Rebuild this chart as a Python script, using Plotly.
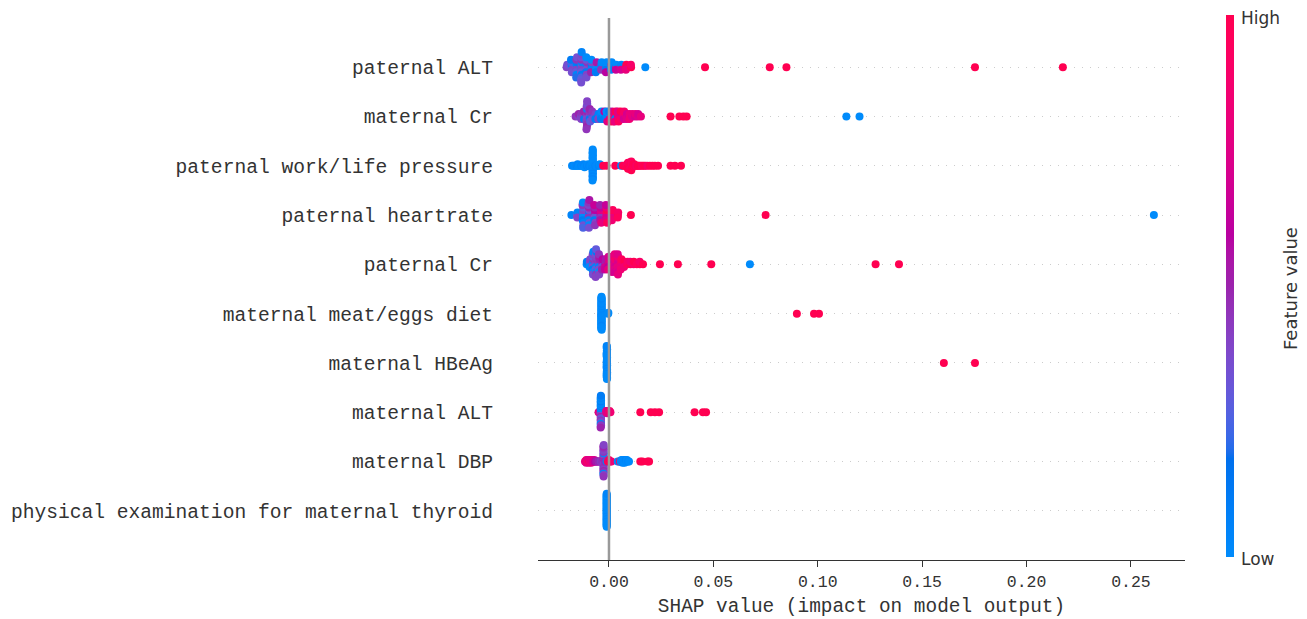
import numpy as np
import plotly.graph_objects as go

# ---------------- data ----------------
features = [
    "paternal ALT", "maternal Cr", "paternal work/life pressure", "paternal heartrate",
    "paternal Cr", "maternal meat/eggs diet", "maternal HBeAg", "maternal ALT",
    "maternal DBP", "physical examination for maternal thyroid",
]
x_tick_vals = [0.0, 0.05, 0.10, 0.15, 0.20, 0.25]
x_tick_text = ["0.00", "0.05", "0.10", "0.15", "0.20", "0.25"]
colorbar_labels = ["Low", "High"]

pat_alt_shap = [
    -0.0203, -0.0200,
    -0.0181, -0.0179, -0.0177, -0.0180, -0.0178, -0.0182,
    -0.0156, -0.0155, -0.0157, -0.0154, -0.0158, -0.0156, -0.0155, -0.0153, -0.0157,
    -0.0132, -0.0131, -0.0133, -0.0130, -0.0134, -0.0132, -0.0131, -0.0133, -0.0132, -0.0130, -0.0134, -0.0131, -0.0133,
    -0.0108, -0.0107, -0.0109, -0.0106, -0.0110, -0.0108, -0.0107, -0.0109, -0.0108,
    -0.0084, -0.0083, -0.0085, -0.0082, -0.0086, -0.0084,
    -0.0061, -0.0060, -0.0062, -0.0059, -0.0063,
    -0.0037, -0.0036, -0.0038, -0.0035,
    -0.0013, -0.0012, -0.0014, -0.0011, -0.0015,
    0.0011, 0.0012, 0.0010, 0.0013,
    0.0034, 0.0035, 0.0033,
    0.0058, 0.0059, 0.0057,
    0.0082, 0.0083, 0.0081,
    0.0106, 0.0105,
    0.0174, 0.0460, 0.0770, 0.0850, 0.1753, 0.2174,
]
pat_alt_val = [
    0.40, 0.35,
    0.30, 0.05, 0.40, 0.25, 0.35, 0.10,
    0.35, 0.05, 0.40, 0.10, 0.30, 0.45, 0.05, 0.35, 0.20,
    0.00, 0.35, 0.40, 0.05, 0.30, 0.45, 0.10, 0.35, 0.25, 0.40, 0.30, 0.05, 0.35,
    0.40, 0.05, 0.35, 0.45, 0.10, 0.30, 0.40, 0.00, 0.35,
    0.45, 0.10, 0.05, 0.40, 0.50, 0.00,
    0.05, 0.40, 0.00, 0.55, 0.10,
    0.00, 0.05, 0.45, 0.00,
    0.05, 0.00, 0.10, 0.00, 0.60,
    0.00, 0.70, 0.05, 0.00,
    0.75, 0.00, 0.65,
    0.85, 0.05, 0.70,
    0.95, 1.00, 0.80,
    1.00, 0.90,
    0.00, 1.00, 1.00, 1.00, 1.00, 1.00,
]

mat_cr_shap = [
    -0.0160,
    -0.0147, -0.0145,
    -0.0134, -0.0132, -0.0133,
    -0.0120, -0.0118, -0.0119, -0.0121,
    -0.0106, -0.0105, -0.0107, -0.0104, -0.0108, -0.0106, -0.0105, -0.0107, -0.0106, -0.0104, -0.0108, -0.0105,
    -0.0093, -0.0091, -0.0092, -0.0094, -0.0090, -0.0092,
    -0.0079, -0.0077, -0.0078, -0.0080,
    -0.0066, -0.0064, -0.0065,
    -0.0052, -0.0050, -0.0051,
    -0.0039, -0.0037, -0.0038, -0.0036,
    -0.0025, -0.0023, -0.0024, -0.0022,
    -0.0011, -0.0009, -0.0010, -0.0012, -0.0008,
    0.0002, 0.0004, 0.0003, 0.0001, 0.0005,
    0.0016, 0.0018, 0.0017, 0.0015, 0.0019,
    0.0029, 0.0031, 0.0030, 0.0032, 0.0028,
    0.0043, 0.0045, 0.0044, 0.0042, 0.0046,
    0.0057, 0.0059, 0.0058, 0.0056,
    0.0070, 0.0072, 0.0071, 0.0073,
    0.0084, 0.0086, 0.0085,
    0.0097, 0.0099, 0.0098,
    0.0111, 0.0113,
    0.0125, 0.0127,
    0.0138, 0.0140,
    0.0153,
    0.0295, 0.0337, 0.0356, 0.0372, 0.1137, 0.1200,
]
mat_cr_val = [
    0.45,
    0.40, 0.50,
    0.35, 0.45, 0.40,
    0.45, 0.40, 0.10, 0.50,
    0.40, 0.45, 0.35, 0.50, 0.40, 0.05, 0.45, 0.40, 0.50, 0.35, 0.45, 0.40,
    0.40, 0.35, 0.10, 0.45, 0.30, 0.50,
    0.40, 0.20, 0.35, 0.45,
    0.30, 0.40, 0.10,
    0.10, 0.05, 0.40,
    0.00, 0.05, 0.10, 0.00,
    0.05, 0.00, 0.10, 0.60,
    0.00, 0.10, 0.05, 0.00, 0.75,
    0.05, 0.00, 0.80, 0.10, 0.90,
    0.95, 0.00, 0.85, 0.70, 1.00,
    0.90, 0.75, 0.05, 1.00, 0.80,
    0.70, 0.90, 0.80, 0.75, 0.95,
    0.80, 0.70, 0.90, 1.00,
    0.75, 0.85, 0.70, 0.90,
    0.80, 0.70, 0.75,
    0.70, 0.80, 0.85,
    0.75, 0.80,
    0.70, 0.80,
    0.75, 0.70,
    0.80,
    1.00, 1.00, 1.00, 1.00, 0.00, 0.00,
]

pat_work_shap = [
    -0.0177, -0.0171, -0.0166, -0.0160, -0.0155, -0.0150, -0.0150, -0.0144, -0.0139, -0.0133,
    -0.0128, -0.0122, -0.0122, -0.0117, -0.0111, -0.0106, -0.0100, -0.0100, -0.0095, -0.0089, -0.0085,
    -0.0078, -0.0077, -0.0079, -0.0078, -0.0077, -0.0079, -0.0078, -0.0077, -0.0079, -0.0078, -0.0077,
    -0.0079, -0.0078, -0.0077, -0.0079, -0.0078, -0.0077, -0.0079, -0.0078, -0.0077, -0.0079, -0.0078,
    -0.0071, -0.0066, -0.0060, -0.0055, -0.0049, -0.0044, -0.0038,
    -0.0028, -0.0012, 0.0030, 0.0058, 0.0066,
    0.0074, 0.0079, 0.0083, 0.0087, 0.0087, 0.0091, 0.0091, 0.0091, 0.0095, 0.0095, 0.0095, 0.0095,
    0.0099, 0.0099, 0.0099, 0.0099, 0.0099, 0.0103, 0.0103, 0.0103, 0.0103, 0.0107, 0.0107, 0.0107,
    0.0111, 0.0111, 0.0116, 0.0116, 0.0121, 0.0121, 0.0126, 0.0131, 0.0137, 0.0143, 0.0150, 0.0158,
    0.0166, 0.0174, 0.0184, 0.0196, 0.0208, 0.0220, 0.0235,
    0.0295, 0.0316, 0.0345,
]
pat_work_val = [
    0.00, 0.05, 0.00, 0.00, 0.05, 0.00, 0.05, 0.00, 0.00, 0.05,
    0.00, 0.00, 0.05, 0.00, 0.00, 0.05, 0.00, 0.00, 0.05, 0.00, 0.00,
    0.00, 0.00, 0.05, 0.00, 0.00, 0.00, 0.05, 0.00, 0.00, 0.00, 0.05,
    0.00, 0.00, 0.00, 0.05, 0.00, 0.00, 0.00, 0.05, 0.00, 0.00, 0.00,
    0.00, 0.05, 0.00, 0.00, 0.05, 0.00, 0.00,
    1.00, 1.00, 1.00, 0.05, 1.00,
    1.00, 0.95, 1.00, 1.00, 0.90, 1.00, 0.95, 1.00, 1.00, 0.90, 1.00, 1.00,
    1.00, 0.95, 1.00, 0.85, 1.00, 1.00, 1.00, 0.90, 1.00, 1.00, 0.95, 1.00,
    1.00, 0.90, 1.00, 1.00, 0.95, 1.00, 1.00, 0.90, 1.00, 1.00, 1.00, 0.95,
    1.00, 1.00, 0.90, 1.00, 1.00, 1.00, 1.00,
    1.00, 1.00, 1.00,
]

pat_hr_shap = [
    -0.0180,
    -0.0153, -0.0151, -0.0152,
    -0.0124, -0.0123, -0.0125, -0.0122, -0.0126, -0.0124, -0.0121, -0.0127, -0.0123, -0.0125, -0.0124,
    -0.0096, -0.0095, -0.0097, -0.0094, -0.0098, -0.0096, -0.0093, -0.0099, -0.0095, -0.0097, -0.0096, -0.0094,
    -0.0068, -0.0067, -0.0069, -0.0066, -0.0070, -0.0068, -0.0065, -0.0071, -0.0067,
    -0.0040, -0.0039, -0.0041, -0.0038, -0.0042, -0.0040, -0.0037, -0.0043,
    -0.0012, -0.0011, -0.0013, -0.0010, -0.0014, -0.0012, -0.0009, -0.0015,
    0.0016, 0.0017, 0.0015, 0.0018, 0.0014,
    0.0043, 0.0044, 0.0042,
    0.0105, 0.0750, 0.2610,
]
pat_hr_val = [
    0.05,
    0.30, 0.05, 0.40,
    0.05, 0.35, 0.00, 0.40, 0.10, 0.30, 0.05, 0.45, 0.35, 0.00, 0.25,
    0.40, 0.10, 0.45, 0.35, 0.05, 0.50, 0.30, 0.40, 0.00, 0.45, 0.35, 0.55,
    0.45, 0.55, 0.35, 0.60, 0.10, 0.50, 0.40, 0.65, 0.45,
    0.60, 0.70, 0.45, 0.75, 0.55, 0.65, 0.80, 0.50,
    0.80, 0.90, 0.70, 1.00, 0.75, 0.85, 0.95, 0.65,
    0.90, 1.00, 0.80, 0.95, 0.85,
    1.00, 0.90, 0.95,
    1.00, 1.00, 0.00,
]

pat_cr_shap = [
    -0.0107, -0.0106,
    -0.0092, -0.0091, -0.0093, -0.0090,
    -0.0077, -0.0076, -0.0078, -0.0075, -0.0079, -0.0077, -0.0076, -0.0078, -0.0077, -0.0075,
    -0.0062, -0.0061, -0.0063, -0.0060, -0.0064, -0.0062, -0.0061, -0.0063, -0.0062, -0.0060, -0.0064, -0.0062,
    -0.0047, -0.0046, -0.0048, -0.0045, -0.0049, -0.0047, -0.0046, -0.0048, -0.0047,
    -0.0032, -0.0031, -0.0033, -0.0030, -0.0034,
    -0.0017, -0.0016, -0.0018, -0.0015, -0.0019,
    -0.0002, -0.0001, -0.0003, 0.0000, -0.0004, -0.0002,
    0.0013, 0.0014, 0.0012, 0.0015, 0.0011, 0.0013, 0.0014,
    0.0028, 0.0029, 0.0027, 0.0030, 0.0026, 0.0028, 0.0029, 0.0027,
    0.0043, 0.0044, 0.0042, 0.0045, 0.0041, 0.0043, 0.0044, 0.0042, 0.0043,
    0.0058, 0.0059, 0.0057, 0.0060, 0.0056,
    0.0073, 0.0074, 0.0072,
    0.0088, 0.0089,
    0.0103, 0.0102,
    0.0118, 0.0119,
    0.0133,
    0.0148, 0.0147,
    0.0163,
    0.0244, 0.0330, 0.0490, 0.0675, 0.1277, 0.1389,
]
pat_cr_val = [
    0.00, 0.10,
    0.05, 0.35, 0.00, 0.40,
    0.40, 0.05, 0.35, 0.45, 0.10, 0.30, 0.00, 0.40, 0.35, 0.05,
    0.35, 0.40, 0.05, 0.45, 0.30, 0.40, 0.00, 0.35, 0.45, 0.10, 0.40, 0.30,
    0.40, 0.45, 0.05, 0.50, 0.35, 0.55, 0.00, 0.45, 0.40,
    0.45, 0.55, 0.35, 0.60, 0.50,
    0.60, 0.50, 0.70, 0.55, 0.65,
    0.65, 0.70, 0.60, 0.75, 0.80, 0.70,
    0.75, 0.70, 0.80, 0.65, 0.85, 0.75, 0.70,
    0.80, 0.75, 0.70, 0.85, 0.75, 0.90, 0.70, 0.80,
    0.75, 0.70, 0.80, 0.72, 0.78, 0.85, 0.70, 0.75, 0.80,
    0.85, 0.90, 0.80, 0.95, 0.85,
    0.90, 1.00, 0.85,
    0.95, 0.90,
    1.00, 0.85,
    0.90, 1.00,
    0.95,
    1.00, 0.90,
    1.00,
    1.00, 1.00, 1.00, 0.00, 1.00, 1.00,
]

mat_meat_shap = [
    -0.0036, -0.0035, -0.0037, -0.0036, -0.0035, -0.0036, -0.0037, -0.0036, -0.0035, -0.0036,
    -0.0036, -0.0035, -0.0037, -0.0036, -0.0035, -0.0036, -0.0037, -0.0036, -0.0035, -0.0036,
    -0.0036, -0.0035, -0.0037, -0.0036, -0.0035, -0.0036, -0.0037, -0.0036, -0.0035, -0.0036,
    -0.0036, -0.0035, -0.0037, -0.0036, -0.0035, -0.0036, -0.0037, -0.0036, -0.0035, -0.0036,
    -0.0004, -0.0003,
    0.0900, 0.0982, 0.1006,
]
mat_meat_val = [
    0.00, 0.00, 0.05, 0.00, 0.00, 0.00, 0.05, 0.00, 0.00, 0.00,
    0.00, 0.05, 0.00, 0.00, 0.00, 0.00, 0.00, 0.05, 0.00, 0.00,
    0.00, 0.00, 0.00, 0.05, 0.00, 0.00, 0.00, 0.00, 0.05, 0.00,
    0.05, 0.00, 0.00, 0.00, 0.00, 0.05, 0.00, 0.00, 0.00, 0.00,
    0.00, 0.00,
    1.00, 1.00, 1.00,
]

mat_hbeag_shap = [
    -0.0010, -0.0011, -0.0009, -0.0010, -0.0011, -0.0010, -0.0009, -0.0010, -0.0011, -0.0010,
    -0.0010, -0.0009, -0.0011, -0.0010, -0.0010, -0.0011, -0.0009, -0.0010, -0.0010, -0.0011,
    -0.0010, -0.0011, -0.0009, -0.0010, -0.0011, -0.0010, -0.0009, -0.0010, -0.0011, -0.0010,
    -0.0010, -0.0009, -0.0011, -0.0010, -0.0010, -0.0011, -0.0009, -0.0010, -0.0010, -0.0011,
    0.1604, 0.1753,
]
mat_hbeag_val = [
    0.00, 0.00, 0.05, 0.00, 0.00, 0.00, 0.00, 0.05, 0.00, 0.00,
    0.00, 0.00, 0.00, 0.00, 0.05, 0.00, 0.00, 0.00, 0.00, 0.00,
    0.05, 0.00, 0.00, 0.00, 0.00, 0.00, 0.05, 0.00, 0.00, 0.00,
    0.00, 0.00, 0.00, 0.05, 0.00, 0.00, 0.00, 0.00, 0.00, 0.05,
    1.00, 1.00,
]

mat_alt_shap = [
    -0.0050, -0.0046,
    -0.0039, -0.0038, -0.0040, -0.0039, -0.0038, -0.0040, -0.0039, -0.0038, -0.0040, -0.0039,
    -0.0038, -0.0040, -0.0039, -0.0038, -0.0040, -0.0039, -0.0038, -0.0040, -0.0039, -0.0038,
    -0.0040, -0.0039, -0.0038, -0.0040, -0.0039, -0.0038, -0.0040, -0.0039,
    -0.0013, -0.0013, -0.0009, -0.0009, -0.0009, -0.0005, -0.0005, -0.0001, 0.0003, 0.0007,
    0.0150, 0.0200, 0.0220, 0.0240, 0.0410, 0.0450, 0.0465,
]
mat_alt_val = [
    0.80, 0.75,
    0.05, 0.00, 0.40, 0.00, 0.45, 0.05, 0.35, 0.00, 0.50, 0.10,
    0.40, 0.00, 0.30, 0.05, 0.45, 0.00, 0.40, 0.10, 0.35, 0.00,
    0.05, 0.00, 0.45, 0.05, 0.40, 0.00, 0.50, 0.10,
    0.75, 0.80, 0.70, 0.80, 0.75, 0.85, 0.70, 0.80, 0.90, 0.85,
    1.00, 1.00, 1.00, 1.00, 1.00, 1.00, 1.00,
]

mat_dbp_shap = [
    -0.0115, -0.0112, -0.0109, -0.0109, -0.0109, -0.0106, -0.0103, -0.0103, -0.0100, -0.0097,
    -0.0097, -0.0097, -0.0094, -0.0091, -0.0091, -0.0088, -0.0085, -0.0085, -0.0085, -0.0082,
    -0.0079, -0.0079, -0.0076, -0.0073, -0.0070, -0.0070, -0.0066, -0.0062, -0.0058, -0.0054,
    -0.0050, -0.0046, -0.0042, -0.0038, -0.0034,
    -0.0027, -0.0026, -0.0025, -0.0027, -0.0026, -0.0025, -0.0027, -0.0026, -0.0025, -0.0027,
    -0.0026, -0.0025, -0.0027, -0.0026, -0.0025, -0.0027, -0.0026, -0.0025, -0.0027, -0.0026,
    -0.0025, -0.0027, -0.0026, -0.0025,
    -0.0018, -0.0012, -0.0006, 0.0000, 0.0000, 0.0006, 0.0012,
    0.0042, 0.0048, 0.0052, 0.0056, 0.0060, 0.0060, 0.0065, 0.0065, 0.0065, 0.0070,
    0.0070, 0.0075, 0.0075, 0.0075, 0.0080, 0.0080, 0.0086, 0.0086, 0.0092, 0.0096,
    0.0150, 0.0160, 0.0185, 0.0192,
]
mat_dbp_val = [
    0.80, 0.75, 0.85, 0.90, 0.75, 1.00, 0.80, 0.75, 0.85, 0.90,
    0.75, 0.80, 1.00, 0.80, 0.75, 0.85, 0.90, 0.75, 0.80, 0.85,
    0.75, 0.80, 0.70, 0.75, 0.65, 0.70, 0.60, 0.55, 0.50, 0.55,
    0.45, 0.50, 0.45, 0.40, 0.45,
    0.45, 0.40, 0.45, 0.50, 0.40, 0.45, 0.40, 0.50, 0.45, 0.40,
    0.45, 0.05, 0.40, 0.45, 0.50, 0.40, 0.45, 0.40, 0.05, 0.45,
    0.40, 0.50, 0.45, 0.40,
    0.50, 0.05, 0.95, 1.00, 0.90, 1.00, 0.85,
    0.00, 0.05, 1.00, 0.00, 0.00, 0.05, 0.00, 0.00, 0.05, 0.00,
    0.00, 0.05, 0.00, 0.00, 0.00, 0.05, 0.00, 0.00, 0.05, 0.00,
    1.00, 1.00, 1.00, 1.00,
]

mat_thyroid_shap = [
    -0.0011, -0.0011, -0.0011, -0.0011, -0.0011, -0.0011, -0.0011, -0.0011, -0.0011, -0.0011,
    -0.0011, -0.0011, -0.0011, -0.0011, -0.0011, -0.0011, -0.0011, -0.0011, -0.0011, -0.0011,
    -0.0011, -0.0011, -0.0011, -0.0011, -0.0011, -0.0011, -0.0011, -0.0011, -0.0011, -0.0011,
    -0.0011, -0.0011, -0.0011, -0.0011, -0.0011, -0.0011, -0.0011, -0.0011, -0.0011, -0.0011,
]
mat_thyroid_val = [
    0.00, 0.00, 0.05, 0.00, 0.00, 0.00, 0.00, 0.05, 0.00, 0.00,
    0.00, 0.00, 0.00, 0.00, 0.05, 0.00, 0.00, 0.00, 0.00, 0.00,
    0.05, 0.00, 0.00, 0.00, 0.00, 0.00, 0.05, 0.00, 0.00, 0.00,
    0.00, 0.00, 0.00, 0.05, 0.00, 0.00, 0.00, 0.00, 0.00, 0.05,
]

series = [
    (pat_alt_shap, pat_alt_val), (mat_cr_shap, mat_cr_val), (pat_work_shap, pat_work_val),
    (pat_hr_shap, pat_hr_val), (pat_cr_shap, pat_cr_val), (mat_meat_shap, mat_meat_val),
    (mat_hbeag_shap, mat_hbeag_val), (mat_alt_shap, mat_alt_val), (mat_dbp_shap, mat_dbp_val),
    (mat_thyroid_shap, mat_thyroid_val),
]
for name, (s, v) in zip(features, series):
    if len(s) != len(v):
        raise ValueError(f"length mismatch for {name}: {len(s)} vs {len(v)}")


# ---------------- shap red_blue colormap ----------------
def lch2rgb(l, c, h):
    a = c * np.cos(h)
    b = c * np.sin(h)
    fy = (l + 16.0) / 116.0
    fx = fy + a / 500.0
    fz = fy - b / 200.0

    def finv(t):
        return t ** 3 if t > 0.2068966 else (t - 16.0 / 116.0) / 7.787

    X = 0.95047 * finv(fx)
    Y = 1.0 * finv(fy)
    Z = 1.08883 * finv(fz)
    lin = [
        3.24048134 * X - 1.53715152 * Y - 0.49853633 * Z,
        -0.96925495 * X + 1.87599 * Y + 0.04155593 * Z,
        0.05564664 * X - 0.20404134 * Y + 1.05731107 * Z,
    ]
    out = []
    for u in lin:
        u = 1.055 * u ** (1 / 2.4) - 0.055 if u > 0.0031308 else 12.92 * u
        out.append(int(round(min(max(u, 0.0), 1.0) * 255)))
    return out


blue_lch = [54.0, 70.0, 4.6588]
l_mid = 40.0
red_lch = [54.0, 90.0, 0.35470565 + 2 * np.pi]
nsteps = 100
l_vals = list(np.linspace(blue_lch[0], l_mid, nsteps // 2)) + list(np.linspace(l_mid, red_lch[0], nsteps // 2))
c_vals = np.linspace(blue_lch[1], red_lch[1], nsteps)
h_vals = np.linspace(blue_lch[2], red_lch[2], nsteps)
colorscale = []
for pos, l, c, h in zip(np.linspace(0, 1, nsteps), l_vals, c_vals, h_vals):
    r, g, b = lch2rgb(l, c, h)
    colorscale.append([float(pos), f"rgb({r},{g},{b})"])


# ---------------- beeswarm layout (shap algorithm) ----------------
def beeswarm_offsets(shaps, row_height=0.4, nbins=100):
    shaps = np.asarray(shaps, dtype=float)
    n = len(shaps)
    quant = np.round(nbins * (shaps - shaps.min()) / (shaps.max() - shaps.min() + 1e-8))
    inds = np.argsort(quant, kind="stable")
    layer = 0
    last_bin = -1
    ys = np.zeros(n)
    for ind in inds:
        if quant[ind] != last_bin:
            layer = 0
        ys[ind] = np.ceil(layer / 2) * ((layer % 2) * 2 - 1)
        layer += 1
        last_bin = quant[ind]
    ys *= 0.9 * (row_height / np.max(ys + 1))
    return ys


n_feat = len(features)
all_x, all_y, all_c = [], [], []
for i, (s, v) in enumerate(series):
    pos = n_feat - 1 - i
    ys = beeswarm_offsets(s)
    all_x.extend(s)
    all_y.extend((pos + ys).tolist())
    all_c.extend(v)

LABEL_FONT = "Liberation Mono"
CB_FONT = "DejaVu Sans"

# The page body adds an 8px margin, so the figure is drawn 8px in from the window edge.
OFF = 8
W, H = 1307 - OFF, 619 - OFF
L, T = 538 - OFF, 18 - OFF
PW, PH = 647, 542
R = W - L - PW
B = H - T - PH


def px_to_paper_x(px):
    return (px - OFF - L) / PW


def px_to_paper_y(py):
    return (T + PH - (py - OFF)) / PH


fig = go.Figure()
fig.add_trace(go.Scatter(
    x=all_x, y=all_y, mode="markers", showlegend=False, hoverinfo="skip",
    marker=dict(
        size=8, color=all_c, colorscale=colorscale, cmin=0, cmax=1,
        line=dict(width=0), opacity=1,
        showscale=True,
        colorbar=dict(
            x=px_to_paper_x(1225.5), xanchor="left", xpad=0,
            y=px_to_paper_y(286), yanchor="middle", ypad=0,
            len=542, lenmode="pixels", thickness=8, outlinewidth=0,
            showticklabels=False, ticks="",
        ),
    ),
))

cb_font = dict(family=CB_FONT, size=17, color="#333333")
fig.add_annotation(text=colorbar_labels[1], showarrow=False, xref="paper", yref="paper",
                   x=px_to_paper_x(1239), y=px_to_paper_y(18), xanchor="left", yanchor="middle",
                   font=cb_font)
fig.add_annotation(text=colorbar_labels[0], showarrow=False, xref="paper", yref="paper",
                   x=px_to_paper_x(1239), y=px_to_paper_y(559), xanchor="left", yanchor="middle",
                   font=cb_font)
fig.add_annotation(
    text="Feature value", textangle=-90, showarrow=False,
    xref="paper", yref="paper",
    x=px_to_paper_x(1290), y=px_to_paper_y(289), xanchor="center", yanchor="middle",
    font=dict(family=CB_FONT, size=18, color="#333333"),
)

fig.add_shape(type="line", xref="x", yref="paper", x0=0, x1=0, y0=0, y1=1,
              line=dict(color="#999999", width=2.5), layer="above")

fig.update_layout(
    width=W, height=H,
    margin=dict(l=L, r=R, t=T, b=B, autoexpand=False),
    paper_bgcolor="white", plot_bgcolor="white",
    xaxis=dict(
        range=[-0.0340, 0.2759], tickvals=x_tick_vals, ticktext=x_tick_text,
        ticks="outside", ticklen=6, tickwidth=1, tickcolor="#333333",
        showline=True, linecolor="#333333", linewidth=1.2,
        showgrid=False, zeroline=False,
        tickfont=dict(family=LABEL_FONT, size=16.5, color="#333333"),
        title=dict(text="SHAP value (impact on model output)", standoff=7,
                   font=dict(family=LABEL_FONT, size=19.4, color="#333333")),
    ),
    yaxis=dict(
        range=[-1, n_feat], tickvals=list(range(n_feat)),
        ticktext=list(reversed(features)),
        showgrid=True, gridcolor="#cccccc", gridwidth=1, griddash="1px,7px",
        showline=False, zeroline=False,
        ticks="outside", ticklen=40, tickcolor="rgba(0,0,0,0)",
        tickfont=dict(family=LABEL_FONT, size=19.6, color="#333333"),
    ),
)

fig.write_html("out.html")
